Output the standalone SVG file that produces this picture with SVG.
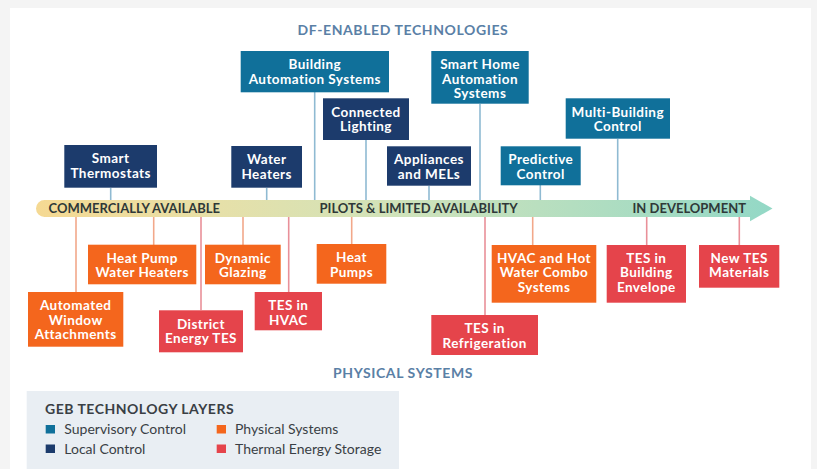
<svg xmlns="http://www.w3.org/2000/svg" width="817" height="469" viewBox="0 0 817 469">
<defs>
<linearGradient id="barg" x1="36" y1="0" x2="773" y2="0" gradientUnits="userSpaceOnUse">
<stop offset="0" stop-color="#f5d993"/>
<stop offset="0.25" stop-color="#e6e0a9"/>
<stop offset="0.5" stop-color="#cfe3bb"/>
<stop offset="1" stop-color="#93d8c6"/>
</linearGradient>
<style>
.t{font-family:Lato,"Open Sans","Liberation Sans",sans-serif}
.nt{font-family:Lato,"Open Sans","Liberation Sans",sans-serif;font-weight:bold;font-size:13.5px;letter-spacing:0.45px;fill:#fff;text-anchor:middle}
.sup{fill:#10709a}
.loc{fill:#1c3b6c}
.phy{fill:#f4661d}
.tes{fill:#e5444b}
.ct{stroke:#8fbad2;stroke-width:1.6;fill:none}
.co{stroke:#f2a88a;stroke-width:1.6;fill:none}
.cr{stroke:#e99099;stroke-width:1.6;fill:none}
.bl{font-family:Lato,"Open Sans","Liberation Sans",sans-serif;font-weight:bold;font-size:13px;fill:#2f3838}
.hd{font-family:Lato,"Open Sans","Liberation Sans",sans-serif;font-weight:bold;font-size:14px;fill:#5a80a6;text-anchor:middle;letter-spacing:0.6px}
.lg{font-family:Lato,"Open Sans","Liberation Sans",sans-serif;font-size:14px;fill:#3a3f45}
</style>
</defs>
<rect x="0" y="0" width="817" height="469" fill="#f4f4f4"/>
<rect x="10" y="8" width="801" height="461" fill="#ffffff"/>
<text class="hd" x="403" y="35">DF-ENABLED TECHNOLOGIES</text>
<text class="hd" x="403" y="377.5">PHYSICAL SYSTEMS</text>

<g id="connectors">
<line class="ct" x1="110.7" y1="188" x2="110.7" y2="200"/>
<line class="ct" x1="266.7" y1="188" x2="266.7" y2="200"/>
<line class="ct" x1="314.7" y1="92" x2="314.7" y2="200"/>
<line class="ct" x1="366" y1="140" x2="366" y2="200"/>
<line class="ct" x1="429" y1="186" x2="429" y2="200"/>
<line class="ct" x1="480" y1="104" x2="480" y2="200"/>
<line class="ct" x1="540.3" y1="185" x2="540.3" y2="200"/>
<line class="ct" x1="617.7" y1="139" x2="617.7" y2="200"/>
<line class="co" x1="76" y1="217" x2="76" y2="292"/>
<line class="co" x1="153.7" y1="217" x2="153.7" y2="245"/>
<line class="cr" x1="201" y1="217" x2="201" y2="310"/>
<line class="co" x1="243" y1="217" x2="243" y2="245"/>
<line class="cr" x1="288.7" y1="217" x2="288.7" y2="292"/>
<line class="co" x1="351.7" y1="217" x2="351.7" y2="244"/>
<line class="cr" x1="485" y1="217" x2="485" y2="315"/>
<line class="co" x1="532.7" y1="217" x2="532.7" y2="245"/>
<line class="cr" x1="646.7" y1="217" x2="646.7" y2="245"/>
<line class="cr" x1="739.3" y1="217" x2="739.3" y2="245"/>
</g>

<g id="timeline">
<path d="M44.5 200 H750 V195.7 L772.5 208.5 L750 221.3 V217 H44.5 A8.5 8.5 0 0 1 44.5 200 Z" fill="url(#barg)"/>
<text class="bl" x="48.5" y="213.2">COMMERCIALLY AVAILABLE</text>
<text class="bl" x="319.5" y="213.2">PILOTS &amp; LIMITED AVAILABILITY</text>
<text class="bl" x="632.5" y="213.2">IN DEVELOPMENT</text>
</g>

<g id="smart-thermostats"><rect class="loc" x="64.3" y="145" width="92.7" height="42.7"/><text class="nt" x="110.7" y="163">Smart</text><text class="nt" x="110.7" y="177.5">Thermostats</text></g>
<g id="water-heaters"><rect class="loc" x="231.3" y="146" width="70.7" height="41.7"/><text class="nt" x="266.7" y="164">Water</text><text class="nt" x="266.7" y="178.5">Heaters</text></g>
<g id="building-automation-systems"><rect class="sup" x="240.7" y="51" width="148.3" height="41.3"/><text class="nt" x="314.8" y="69">Building</text><text class="nt" x="314.8" y="83.5">Automation Systems</text></g>
<g id="connected-lighting"><rect class="loc" x="323" y="98.3" width="86" height="41.7"/><text class="nt" x="366" y="116.5">Connected</text><text class="nt" x="366" y="131">Lighting</text></g>
<g id="appliances-mels"><rect class="loc" x="387" y="146.3" width="84" height="39.4"/><text class="nt" x="429" y="164">Appliances</text><text class="nt" x="429" y="178.5">and MELs</text></g>
<g id="smart-home-automation"><rect class="sup" x="431.3" y="51" width="97.4" height="52.7"/><text class="nt" x="480" y="69">Smart Home</text><text class="nt" x="480" y="83.5">Automation</text><text class="nt" x="480" y="98">Systems</text></g>
<g id="predictive-control"><rect class="sup" x="500.7" y="146.3" width="80" height="39"/><text class="nt" x="540.7" y="164">Predictive</text><text class="nt" x="540.7" y="178.5">Control</text></g>
<g id="multi-building-control"><rect class="sup" x="565.7" y="98.3" width="104.3" height="40.4"/><text class="nt" x="617.8" y="116.5">Multi-Building</text><text class="nt" x="617.8" y="131">Control</text></g>

<g id="automated-window-attachments"><rect class="phy" x="28" y="292" width="95.3" height="54.7"/><text class="nt" x="75.7" y="310">Automated</text><text class="nt" x="75.7" y="324.5">Window</text><text class="nt" x="75.7" y="339">Attachments</text></g>
<g id="heat-pump-water-heaters"><rect class="phy" x="88" y="244.7" width="108.3" height="39.6"/><text class="nt" x="142.2" y="262.5">Heat Pump</text><text class="nt" x="142.2" y="277">Water Heaters</text></g>
<g id="district-energy-tes"><rect class="tes" x="159" y="310.3" width="84" height="42"/><text class="nt" x="201" y="328.5">District</text><text class="nt" x="201" y="343">Energy TES</text></g>
<g id="dynamic-glazing"><rect class="phy" x="205" y="244.7" width="75.7" height="39.6"/><text class="nt" x="242.8" y="262.5">Dynamic</text><text class="nt" x="242.8" y="277">Glazing</text></g>
<g id="tes-in-hvac"><rect class="tes" x="254.7" y="292" width="67.3" height="38.3"/><text class="nt" x="288.3" y="310">TES in</text><text class="nt" x="288.3" y="324.5">HVAC</text></g>
<g id="heat-pumps"><rect class="phy" x="316.7" y="244" width="69.6" height="39.7"/><text class="nt" x="351.5" y="262">Heat</text><text class="nt" x="351.5" y="276.5">Pumps</text></g>
<g id="tes-in-refrigeration"><rect class="tes" x="431.3" y="315" width="106.7" height="40"/><text class="nt" x="484.7" y="333">TES in</text><text class="nt" x="484.7" y="347.5">Refrigeration</text></g>
<g id="hvac-hot-water-combo"><rect class="phy" x="491.7" y="245" width="104.6" height="57.7"/><text class="nt" x="544" y="262.5">HVAC and Hot</text><text class="nt" x="544" y="277">Water Combo</text><text class="nt" x="544" y="291.5">Systems</text></g>
<g id="tes-in-building-envelope"><rect class="tes" x="606.7" y="245" width="79.3" height="57.7"/><text class="nt" x="646.3" y="262.5">TES in</text><text class="nt" x="646.3" y="277">Building</text><text class="nt" x="646.3" y="291.5">Envelope</text></g>
<g id="new-tes-materials"><rect class="tes" x="699" y="245" width="80.3" height="42.7"/><text class="nt" x="739.2" y="262.5">New TES</text><text class="nt" x="739.2" y="277">Materials</text></g>

<g id="legend">
<rect x="26.7" y="391" width="372.3" height="78" fill="#e9eef3"/>
<text class="t" x="45" y="414.3" font-weight="bold" font-size="14" letter-spacing="0.5" fill="#3a3f45">GEB TECHNOLOGY LAYERS</text>
<rect class="sup" x="45.7" y="425" width="9.3" height="8.5"/>
<text class="lg" x="64.3" y="434">Supervisory Control</text>
<rect class="loc" x="45.7" y="444.5" width="9.3" height="8.5"/>
<text class="lg" x="64.3" y="454">Local Control</text>
<rect class="phy" x="216.7" y="425" width="9.3" height="8.5"/>
<text class="lg" x="235" y="434">Physical Systems</text>
<rect class="tes" x="216.7" y="444.5" width="9.3" height="8.5"/>
<text class="lg" x="235" y="454">Thermal Energy Storage</text>
</g>
</svg>
